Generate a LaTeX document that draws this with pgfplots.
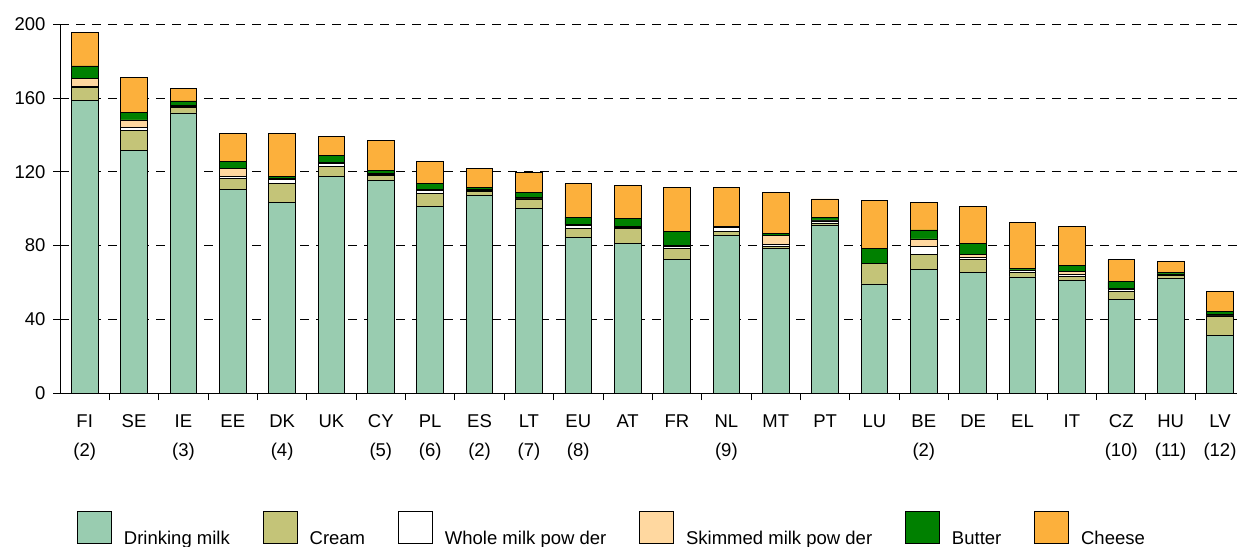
\documentclass[border=0pt]{standalone}
\usepackage{fontspec}
\setmainfont{Liberation Sans}
\usepackage{pgfplots}
\usepackage{pgfplotstable}
\pgfplotsset{compat=1.18}
\definecolor{cDrink}{RGB}{153,204,176}
\definecolor{cCream}{RGB}{196,196,120}
\definecolor{cWMP}{RGB}{255,255,255}
\definecolor{cSMP}{RGB}{255,216,160}
\definecolor{cButter}{RGB}{0,128,0}
\definecolor{cCheese}{RGB}{252,176,60}
\newcommand{\myfont}{\fontsize{18.5bp}{29.4bp}\selectfont}
\pgfplotstableread{
x D C W S B Ch
0 159 7 0.5 4 7 18
1 131.7 11 1.5 4 4 19
2 152 3 0.5 0.5 2.5 7
3 110.4 6 1.3 4 4 15.3
4 103.5 10.2 2.3 0.5 1.2 23.3
5 117.7 5.1 1.7 0.5 4 10
6 115.5 2.8 0.5 0.5 1.5 16.2
7 101.4 7 1.5 0.5 3.3 12
8 107.4 2.1 0.5 0.5 1 10.3
9 100.4 4.9 0.5 0.5 2.5 11.1
10 84.5 4.9 1.5 0.5 4.1 18.2
11 81 8.5 0.5 0.5 4.1 18
12 72.3 6.2 0.9 0.5 7.6 24.2
13 85.4 2.3 2.3 0 0.5 21.2
14 78.3 1.1 1.1 4.9 1.2 22.2
15 91.2 1.1 1.1 0.5 1.5 9.9
16 59.2 10.9 0 0 8.2 26.3
17 67.2 8.2 4 4.2 4.9 15
18 65.2 7.1 1.5 1.6 5.6 20.4
19 63 2.2 1.1 0.5 0.6 25
20 61 2.2 1.1 1.8 3.1 21.3
21 51 4.2 0.8 0.5 3.8 12
22 62.3 1.3 0.5 0.5 0.6 6.2
23 31 10.8 0.5 0.5 1.6 10.8
}\datatable
\pgfplotsset{mybox/.style={legend image code/.code={\draw[##1,line width=0.8bp] (0bp,-5bp) rectangle (34bp,27bp);}}}
\begin{document}
\begin{tikzpicture}[font=\myfont]
\useasboundingbox (0,0) rectangle (1237bp,547bp);
\begin{axis}[
  at={(60bp,154bp)}, anchor=south west,
  scale only axis, width=1177bp, height=368.5bp,
  ybar stacked, bar width=0.54,
  xmin=-0.5, xmax=23.345, ymin=0, ymax=200,
  axis lines=left, axis line style={-, line width=0.9bp, black},
  tick align=outside,
  ytick={0,40,...,200}, major tick length=7bp,
  tick style={line width=0.9bp, black},
  yticklabel style={font=\myfont, xshift=-4bp},
  /pgf/number format/assume math mode=true,
  xtick={0.5,1.5,...,22.5}, xticklabels={},
  extra x ticks={0,...,23},
  extra x tick labels={{FI\\(2)},SE,{IE\\(3)},EE,{DK\\(4)},UK,{CY\\(5)},{PL\\(6)},{ES\\(2)},{LT\\(7)},{EU\\(8)},AT,FR,{NL\\(9)},MT,PT,LU,{BE\\(2)},DE,EL,IT,{CZ\\(10)},{HU\\(11)},{LV\\(12)}},
  extra x tick style={major tick length=0pt, xticklabel style={align=center, font=\myfont, yshift=-18bp}},
  ymajorgrids, grid style={black, line width=0.9bp, dash pattern=on 9bp off 7bp},
  legend columns=6,
  legend style={draw=none, inner sep=0pt, font=\myfont, at={(axis description cs:0.01444,-0.3202)}, anchor=north west,
    /tikz/every odd column/.append style={column sep=10bp},
    /tikz/every even column/.append style={column sep=31bp}},
]
\addplot[mybox, fill=cDrink, draw=black, line width=0.8bp] table[x=x,y=D]{\datatable};
\addplot[mybox, fill=cCream, draw=black, line width=0.8bp] table[x=x,y=C]{\datatable};
\addplot[mybox, fill=cWMP, draw=black, line width=0.8bp] table[x=x,y=W]{\datatable};
\addplot[mybox, fill=cSMP, draw=black, line width=0.8bp] table[x=x,y=S]{\datatable};
\addplot[mybox, fill=cButter, draw=black, line width=0.8bp] table[x=x,y=B]{\datatable};
\addplot[mybox, fill=cCheese, draw=black, line width=0.8bp] table[x=x,y=Ch]{\datatable};
\legend{Drinking milk, Cream, Whole milk pow der, Skimmed milk pow der, Butter, Cheese}
\end{axis}
\end{tikzpicture}
\end{document}
